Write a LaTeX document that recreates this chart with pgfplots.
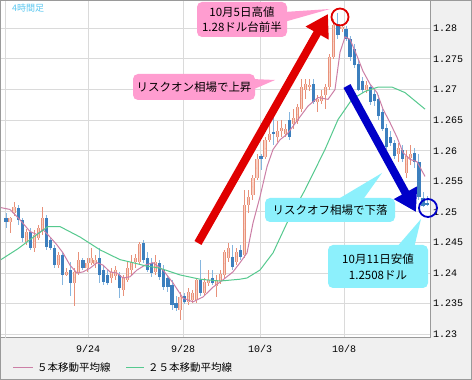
\documentclass[border=0pt]{standalone}
\usepackage{pgfplots}
\usepackage{pgfplotstable}
\pgfplotsset{compat=1.18}
\usepackage{fontspec}
\usetikzlibrary{arrows.meta}
\newfontfamily\jp{Noto Sans CJK JP}
\newfontfamily\mono{Liberation Mono}
\definecolor{upbody}{HTML}{E8917A}
\definecolor{upfill}{HTML}{F9D2C5}
\definecolor{upwick}{HTML}{E8917A}
\definecolor{dnbody}{HTML}{3C7FBE}
\definecolor{dnwick}{HTML}{86B6DF}
\definecolor{maA}{HTML}{CC7FA6}
\definecolor{maB}{HTML}{55C98E}
\definecolor{gridc}{HTML}{DADADA}
\definecolor{bgc}{HTML}{F0F0F0}
\definecolor{framec}{HTML}{9A9A9A}
\definecolor{calpink}{HTML}{FF9DD0}
\definecolor{calcyan}{HTML}{8CF0FC}
\definecolor{arrred}{HTML}{E00000}
\definecolor{arrblue}{HTML}{0000C8}
\definecolor{titleblue}{HTML}{5CC8F0}

\pgfplotstableread{
i o h l c
1 1.2484 1.2492 1.2466 1.2490
2 1.2499 1.2517 1.2494 1.2508
5 1.2451 1.2472 1.2446 1.2468
7 1.2441 1.2471 1.2435 1.2463
8 1.2458 1.2479 1.2454 1.2474
9 1.2468 1.2508 1.2463 1.2490
13 1.2413 1.2435 1.2408 1.2430
15 1.2397 1.2408 1.2395 1.2402
17 1.2384 1.2408 1.2346 1.2402
18 1.2400 1.2435 1.2397 1.2422
20 1.2408 1.2425 1.2402 1.2417
21 1.2417 1.2441 1.2413 1.2425
22 1.2415 1.2430 1.2408 1.2422
26 1.2392 1.2408 1.2384 1.2402
27 1.2395 1.2412 1.2389 1.2405
29 1.2372 1.2397 1.2363 1.2392
30 1.2389 1.2418 1.2386 1.2408
31 1.2405 1.2430 1.2397 1.2418
32 1.2418 1.2431 1.2408 1.2425
33 1.2418 1.2451 1.2413 1.2448
37 1.2402 1.2430 1.2397 1.2418
43 1.2340 1.2369 1.2323 1.2361
45 1.2353 1.2376 1.2348 1.2369
46 1.2356 1.2372 1.2351 1.2368
47 1.2356 1.2392 1.2351 1.2389
49 1.2368 1.2392 1.2363 1.2386
50 1.2384 1.2405 1.2379 1.2389
52 1.2379 1.2397 1.2361 1.2389
53 1.2387 1.2405 1.2382 1.2399
54 1.2397 1.2438 1.2392 1.2435
55 1.2425 1.2449 1.2418 1.2441
57 1.2418 1.2441 1.2413 1.2435
59 1.2430 1.2536 1.2425 1.2512
60 1.2512 1.2536 1.2499 1.2525
61 1.2528 1.2561 1.2520 1.2556
62 1.2556 1.2594 1.2553 1.2586
64 1.2589 1.2623 1.2586 1.2618
65 1.2618 1.2648 1.2615 1.2628
67 1.2623 1.2648 1.2615 1.2633
68 1.2632 1.2651 1.2623 1.2638
69 1.2627 1.2643 1.2622 1.2635
71 1.2643 1.2668 1.2635 1.2654
72 1.2648 1.2676 1.2643 1.2671
73 1.2668 1.2717 1.2664 1.2704
74 1.2700 1.2717 1.2684 1.2709
75 1.2704 1.2717 1.2697 1.2707
77 1.2679 1.2692 1.2664 1.2684
78 1.2681 1.2700 1.2676 1.2689
79 1.2692 1.2709 1.2668 1.2704
80 1.2704 1.2758 1.2700 1.2753
81 1.2753 1.2815 1.2750 1.2805
83 1.2799 1.2807 1.2794 1.2802
89 1.2700 1.2714 1.2695 1.2707
97 1.2594 1.2613 1.2582 1.2605
99 1.2564 1.2602 1.2556 1.2591
100 1.2589 1.2610 1.2577 1.2595
}\up

\pgfplotstableread{
i o h l c
0 1.2490 1.2499 1.2474 1.2484
3 1.2507 1.2512 1.2479 1.2487
4 1.2487 1.2490 1.2451 1.2458
6 1.2468 1.2474 1.2438 1.2441
10 1.2490 1.2495 1.2438 1.2443
11 1.2454 1.2459 1.2438 1.2441
12 1.2441 1.2446 1.2408 1.2413
14 1.2430 1.2435 1.2381 1.2397
16 1.2405 1.2418 1.2363 1.2384
19 1.2422 1.2425 1.2405 1.2408
23 1.2425 1.2441 1.2384 1.2397
24 1.2405 1.2413 1.2381 1.2386
25 1.2397 1.2405 1.2381 1.2384
28 1.2397 1.2402 1.2359 1.2376
34 1.2449 1.2454 1.2417 1.2422
35 1.2425 1.2435 1.2402 1.2405
36 1.2417 1.2425 1.2394 1.2400
38 1.2417 1.2422 1.2389 1.2394
39 1.2405 1.2413 1.2372 1.2377
40 1.2392 1.2397 1.2369 1.2377
41 1.2381 1.2389 1.2340 1.2348
42 1.2351 1.2363 1.2338 1.2343
44 1.2363 1.2368 1.2349 1.2353
48 1.2389 1.2422 1.2363 1.2368
51 1.2392 1.2405 1.2381 1.2384
56 1.2427 1.2446 1.2405 1.2410
58 1.2438 1.2446 1.2422 1.2427
63 1.2591 1.2594 1.2569 1.2586
66 1.2630 1.2663 1.2610 1.2627
70 1.2651 1.2663 1.2618 1.2623
76 1.2709 1.2717 1.2676 1.2679
82 1.2807 1.2825 1.2782 1.2789
84 1.2799 1.2804 1.2779 1.2782
85 1.2782 1.2787 1.2746 1.2753
86 1.2766 1.2774 1.2736 1.2741
87 1.2741 1.2750 1.2697 1.2700
88 1.2714 1.2720 1.2695 1.2700
90 1.2704 1.2709 1.2674 1.2679
91 1.2692 1.2700 1.2674 1.2681
92 1.2684 1.2692 1.2651 1.2656
93 1.2663 1.2668 1.2632 1.2635
94 1.2638 1.2643 1.2602 1.2607
95 1.2623 1.2632 1.2607 1.2613
96 1.2613 1.2618 1.2586 1.2591
98 1.2602 1.2610 1.2581 1.2586
101 1.2597 1.2605 1.2572 1.2581
102 1.2581 1.2594 1.2520 1.2525
103 1.2523 1.2533 1.2508 1.2510
104 1.2515 1.2526 1.2510 1.2512
}\down

\pgfplotsset{
  candle/.style 2 args={only marks, mark=*, mark size=0pt,
    mark options={draw=none, fill=none},
    error bars/.cd, y dir=both, y explicit, error mark=none,
    error bar style={line width=#1, draw=#2, solid}},
}

\begin{document}
\begin{tikzpicture}[x=1pt,y=1pt]
\useasboundingbox (0,0) rectangle (472,380);
\fill[bgc] (0,0) rectangle (472,380);
\begin{axis}[
  at={(1pt,42pt)}, anchor=south west,
  scale only axis, width=429pt, height=338pt,
  xmin=-1.235, xmax=104.74, ymin=1.22939, ymax=1.28464,
  axis background/.style={fill=white},
  xtick={20.26,43.73,62.75,83.5},
  xticklabels={9/24,9/28,10/3,10/8},
  extra x ticks={0}, extra x tick labels={},
  ytick={1.23,1.235,1.24,1.245,1.25,1.255,1.26,1.265,1.27,1.275,1.28},
  yticklabels={1.23,1.235,1.24,1.245,1.25,1.255,1.26,1.265,1.27,1.275,1.28},
  yticklabel pos=right,
  grid=major, major grid style={color=gridc, line width=1pt},
  major tick length=0pt,
  axis line style={draw=framec, line width=1pt},
  tick label style={font=\mono\fontsize{10}{12}\selectfont, text=black},
  yticklabel style={anchor=west, inner sep=0pt, xshift=3pt},
  xticklabel style={anchor=north, inner sep=0pt, yshift=-7pt},
  clip=true,
]
% wicks
\addplot[candle={0.9pt}{upwick}]
  table[x=i, y expr={(\thisrow{h}+\thisrow{l})/2}, y error expr={(\thisrow{h}-\thisrow{l})/2}] {\up};
\addplot[candle={0.9pt}{dnwick}]
  table[x=i, y expr={(\thisrow{h}+\thisrow{l})/2}, y error expr={(\thisrow{h}-\thisrow{l})/2}] {\down};
% bodies
\addplot[candle={3.2pt}{upbody}]
  table[x=i, y expr={(\thisrow{o}+\thisrow{c})/2}, y error expr={(\thisrow{c}-\thisrow{o})/2}] {\up};
\addplot[candle={1.2pt}{upfill}]
  table[x=i, y expr={(\thisrow{o}+\thisrow{c})/2}, y error expr={(\thisrow{c}-\thisrow{o})/2}] {\up};
\addplot[candle={3.2pt}{dnbody}]
  table[x=i, y expr={(\thisrow{o}+\thisrow{c})/2}, y error expr={(\thisrow{o}-\thisrow{c})/2}] {\down};
% 5 MA
\addplot[maA, line width=1pt, mark=none] coordinates {
(-1.24,1.2507) (0.99,1.2504) (3.46,1.2487) (5.93,1.2468) (7.66,1.2463) (9.14,1.2471)
(10.87,1.2459) (12.60,1.2446) (14.08,1.2433) (15.81,1.2413) (17.54,1.2400) (19.02,1.2402)
(20.75,1.2408) (22.48,1.2417) (23.96,1.2413) (25.69,1.2402) (27.42,1.2400) (28.90,1.2392)
(30.63,1.2394) (32.36,1.2405) (34.34,1.2413) (36.31,1.2417) (38.78,1.2405) (41.25,1.2384)
(43.73,1.2359) (46.20,1.2353) (48.67,1.2361) (51.14,1.2377) (53.61,1.2389) (56.08,1.2402)
(57.81,1.2417) (59.54,1.2433) (61.02,1.2482) (62.75,1.2525) (64.48,1.2574) (65.96,1.2602)
(67.69,1.2618) (69.42,1.2627) (72.13,1.2651) (74.60,1.2673) (77.08,1.2687) (79.55,1.2684)
(81.27,1.2700) (82.51,1.2761) (83.75,1.2786) (84.98,1.2782) (86.71,1.2755) (88.19,1.2730)
(89.92,1.2709) (91.65,1.2695) (93.13,1.2668) (94.86,1.2646) (96.59,1.2622) (98.07,1.2597)
(99.80,1.2586) (101.53,1.2582) (103.51,1.2558)
};
% 25 MA
\addplot[maB, line width=1pt, mark=none] coordinates {
(-1.24,1.2422) (3.0,1.2440) (7.0,1.2460) (10.38,1.2476) (13.34,1.2476) (18.28,1.2459)
(23.22,1.2438) (28.16,1.2422) (31.37,1.2417) (34.34,1.2412) (38.04,1.2408) (42.98,1.2397)
(47.92,1.2390) (52.87,1.2387) (57.81,1.2390) (59.54,1.2392) (62.75,1.2405) (65.96,1.2433)
(69.42,1.2482) (73.86,1.2536) (78.80,1.2602) (82.02,1.2651) (85.47,1.2684) (88.69,1.2697)
(91.90,1.2704) (95.36,1.2704) (98.57,1.2695) (103.51,1.2668)
};
\end{axis}
\begin{scope}[shift={(0,380)}, x=1pt, y=-1pt]
  \node[anchor=west, inner sep=0pt, text=titleblue, font=\jp\fontsize{9}{10}\selectfont] at (12,8.5) {4時間足};
  % arrows
  \draw[arrred, line width=8pt, -{Triangle[length=22pt,width=25pt]}] (198,243) -- (328,14);
  \draw[arrblue, line width=8pt, -{Triangle[length=22pt,width=25pt]}] (347,86) -- (416,212);
  % circles
  \draw[arrred, line width=1.8pt] (340,17) circle (8.5pt);
  \draw[arrblue, line width=1.8pt] (428,208) circle (9pt);
  % callout 1
  \fill[calpink, rounded corners=5pt] (197,2) rectangle (287,37);
  \fill[calpink] (284,12) -- (330,9) -- (284,22) -- cycle;
  \node[font=\jp\fontsize{11.5}{13}\selectfont, inner sep=0pt] at (242,12.5) {10月5日高値};
  \node[font=\jp\fontsize{11.5}{13}\selectfont, inner sep=0pt] at (242,27.5) {1.28ドル台前半};
  % callout 2
  \fill[calpink, rounded corners=5pt] (133,74) rectangle (255,100);
  \fill[calpink] (252,79) -- (275,80) -- (252,90) -- cycle;
  \node[font=\jp\fontsize{11.5}{13}\selectfont, inner sep=0pt] at (194,87) {リスクオン相場で上昇};
  % callout 3
  \fill[calcyan, rounded corners=5pt] (265,198) rectangle (395,222);
  \fill[calcyan] (335,201) -- (382,173) -- (362,201) -- cycle;
  \node[font=\jp\fontsize{11.5}{13}\selectfont, inner sep=0pt] at (330,210) {リスクオフ相場で下落};
  % callout 4
  \fill[calcyan, rounded corners=5pt] (328,245) rectangle (428,288);
  \fill[calcyan] (396,248) -- (421,219) -- (414,248) -- cycle;
  \node[font=\jp\fontsize{11.5}{13}\selectfont, inner sep=0pt] at (378,259) {10月11日安値};
  \node[font=\jp\fontsize{11.5}{13}\selectfont, inner sep=0pt] at (378,275) {1.2508ドル};
  % legend
  \draw[maA, line width=1pt] (13,368) -- (33,368);
  \node[anchor=west, inner sep=0pt, font=\jp\fontsize{10.5}{12}\selectfont] at (37,368) {５本移動平均線};
  \draw[maB, line width=1pt] (126,368) -- (144,368);
  \node[anchor=west, inner sep=0pt, font=\jp\fontsize{10.5}{12}\selectfont] at (148,368) {２５本移動平均線};
  % frame
  \draw[framec, line width=1pt] (0.5,0.5) rectangle (471.5,379.5);
\end{scope}
\end{tikzpicture}
\end{document}
